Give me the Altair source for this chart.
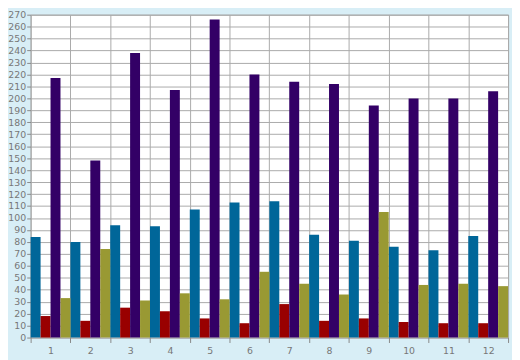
import altair as alt
import pandas as pd

groups = [str(i) for i in range(1, 13)]
series_names = ["A", "B", "C", "D"]
blue = [84, 80, 94, 93, 107, 113, 114, 86, 81, 76, 73, 85]
red = [18, 14, 25, 22, 16, 12, 28, 14, 16, 13, 12, 12]
purple = [217, 148, 238, 207, 266, 220, 214, 212, 194, 200, 200, 206]
olive = [33, 74, 31, 37, 32, 55, 45, 36, 105, 44, 45, 43]
colors = ["#006699", "#990000", "#330066", "#999933"]
y_ticks = list(range(0, 271, 10))

rows = []
for name, vals in zip(series_names, [blue, red, purple, olive]):
    for g, v in zip(groups, vals):
        rows.append({"group": g, "series": name, "value": v})
df = pd.DataFrame(rows)

chart = alt.Chart(df).mark_bar().encode(
    x=alt.X("group:N", sort=groups, title=None,
            scale=alt.Scale(paddingInner=0, paddingOuter=0),
            axis=alt.Axis(labelAngle=0, grid=True, tickBand="extent", tickSize=5,
                          labelPadding=3, domain=False)),
    xOffset=alt.XOffset("series:N", sort=series_names,
                        scale=alt.Scale(paddingInner=0, paddingOuter=0)),
    y=alt.Y("value:Q", title=None,
            scale=alt.Scale(domain=[0, 270], nice=False),
            axis=alt.Axis(values=y_ticks, tickSize=4, labelPadding=1, domain=False)),
    color=alt.Color("series:N", sort=series_names, legend=None,
                    scale=alt.Scale(domain=series_names, range=colors)),
).properties(
    width=485, height=328,
    autosize=alt.AutoSizeParams(type="none"),
    padding={"left": 23, "top": 4, "right": 4, "bottom": 20},
    background="#d8eef6",
).configure_view(
    fill="white", stroke="#a8a8a8", strokeWidth=1
).configure_axis(
    gridColor="#aaaaaa", gridOpacity=1, gridWidth=1,
    tickColor="#888888", labelColor="#777777",
    labelFont="DejaVu Sans", labelFontSize=9.5,
)

chart.save("out.html", embed_options={"renderer": "svg", "actions": False})
